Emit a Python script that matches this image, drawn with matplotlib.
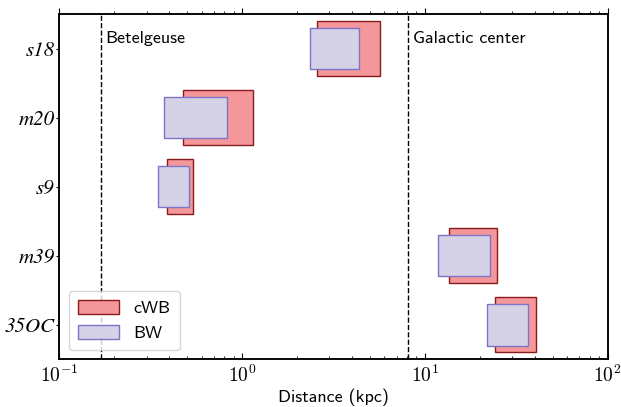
import numpy as np
import matplotlib
matplotlib.use("Agg")
import matplotlib.pyplot as plt
from matplotlib.ticker import FuncFormatter

# source models (top to bottom) and detection distance ranges in kpc
models = ["s18", "m20", "s9", "m39", "35OC"]
cwb_lo = [2.58, 0.476, 0.389, 13.6, 24.3]
cwb_hi = [5.66, 1.15, 0.540, 24.9, 40.7]
bw_lo = [2.36, 0.373, 0.346, 11.8, 21.9]
bw_hi = [4.34, 0.823, 0.513, 22.7, 36.5]

# reference distances
ref_names = ["Betelgeuse", "Galactic center"]
ref_dist = [0.168, 8.1]

plt.rcParams["mathtext.fontset"] = "cm"
sans = "cmss10"

fig = plt.figure(figsize=(6.21, 4.07), dpi=100)
ax = fig.add_axes([0.0958, 0.117, 0.8825, 0.8485])

ypos = np.arange(len(models))[::-1]
cwb_lo = np.array(cwb_lo)
cwb_hi = np.array(cwb_hi)
bw_lo = np.array(bw_lo)
bw_hi = np.array(bw_hi)

ax.barh(ypos, cwb_hi - cwb_lo, left=cwb_lo, height=0.8,
        color="#f4979b", edgecolor="#8b1a1a", linewidth=1.0, label="cWB")
ax.barh(ypos, bw_hi - bw_lo, left=bw_lo, height=0.6,
        color="#d5d2e8", edgecolor="#7d74c6", linewidth=1.0, label="BW")

for name, d in zip(ref_names, ref_dist):
    ax.axvline(d, color="black", linestyle="--", linewidth=1.0, zorder=0)
    ax.text(d * 1.06, 4.14, name, fontfamily=sans, fontsize=13,
            ha="left", va="center")

ax.set_xscale("log")
ax.set_xlim(0.1, 100)
ax.set_ylim(-0.5, 4.5)
ax.set_yticks(ypos)
ax.set_yticklabels(models, fontfamily="STIXGeneral", style="italic",
                   fontsize=15)
ax.xaxis.set_major_formatter(
    FuncFormatter(lambda v, p: r"$\mathrm{10^{%d}}$" % round(np.log10(v))))
ax.set_xlabel("Distance (kpc)", fontfamily=sans, fontsize=13, labelpad=2)

ax.tick_params(axis="x", which="both", direction="in", labelsize=14)
ax.tick_params(axis="x", which="major", length=4.5)
ax.tick_params(axis="x", which="minor", length=2)
ax.tick_params(axis="y", length=2.5, pad=1)

# top axis ticks point outward
top = ax.twiny()
top.set_xscale("log")
top.set_xlim(ax.get_xlim())
top.tick_params(axis="x", which="both", direction="out", labeltop=False)
top.tick_params(axis="x", which="major", length=4.5)
top.tick_params(axis="x", which="minor", length=2)

for a in (ax, top):
    for s in a.spines.values():
        s.set_linewidth(1.1)

leg = ax.legend(loc="lower left", prop={"family": sans, "size": 13},
                handlelength=2.3, handleheight=0.8, borderpad=0.5,
                labelspacing=0.5)

fig.savefig("out.png", dpi=100)
